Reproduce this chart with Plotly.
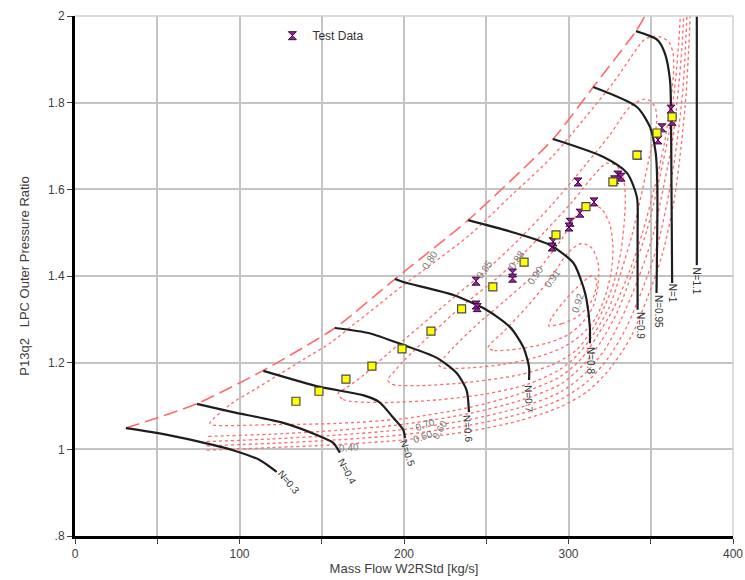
import plotly.graph_objects as go

# ---- speed lines (corrected speed N) ----
speed_names = ["N=0.3", "N=0.4", "N=0.5", "N=0.6", "N=0.7", "N=0.8", "N=0.9", "N=0.95", "N=1", "N=1.1"]
speed_x = [
    [30.9, 49.8, 74, 96, 112.5, 122.6],
    [74, 96, 126.6, 147, 157, 161],
    [114.5, 149, 175, 185, 193, 199.5, 200.6],
    [158, 179, 199.5, 220, 232, 238, 239.5],
    [194.5, 199.5, 230, 250.5, 264.5, 272.5, 276, 276],
    [239, 266, 289, 303, 309, 311, 313, 313],
    [290.6, 321, 335.5, 341.6, 342, 342],
    [315, 341.6, 349.5, 353, 354, 353.5],
    [341, 354, 358.6, 361.7, 362.3, 363],
    [378, 378],
]
speed_y = [
    [1.049, 1.038, 1.019, 0.998, 0.975, 0.948],
    [1.105, 1.086, 1.061, 1.033, 1.015, 0.992],
    [1.181, 1.144, 1.125, 1.109, 1.075, 1.045, 1.026],
    [1.280, 1.268, 1.241, 1.211, 1.176, 1.137, 1.086],
    [1.393, 1.386, 1.356, 1.321, 1.282, 1.236, 1.190, 1.160],
    [1.529, 1.501, 1.471, 1.430, 1.375, 1.345, 1.280, 1.245],
    [1.716, 1.675, 1.638, 1.582, 1.499, 1.322],
    [1.836, 1.790, 1.744, 1.684, 1.605, 1.361],
    [1.965, 1.945, 1.914, 1.852, 1.790, 1.384],
    [2.0, 1.425],
]
# label centre and rotation for each speed line
speed_lab_x = [129.5, 165.3, 202.4, 239.0, 276.0, 313.7, 343.5, 354.4, 363.0, 378.0]
speed_lab_y = [0.925, 0.948, 0.991, 1.049, 1.118, 1.206, 1.287, 1.317, 1.361, 1.388]
speed_lab_ang = [50, 62, 72, 85, 88, 90, 90, 90, 90, 90]

# ---- surge line ----
surge_x = [31, 74, 114, 158, 194.5, 239, 290.6, 315, 341, 346.5]
surge_y = [1.049, 1.105, 1.181, 1.280, 1.393, 1.529, 1.716, 1.836, 1.965, 2.0]

# ---- efficiency contours ----
eff_levels = ["0.40", "0.50", "0.60", "0.70", "0.80", "0.85", "0.88", "0.90", "0.91", "0.92"]
eff_x = [
    [80, 120, 160, 200, 240, 270, 295, 312, 326, 338, 348, 357, 364, 368.5, 371.5, 373, 374],
    [80, 120, 160, 200, 240, 270, 295, 311, 324, 335, 345, 354, 361, 366, 369.5, 371, 372],
    [80, 120, 160, 200, 240, 270, 295, 310, 322, 332, 342, 351, 358, 363.5, 367, 369, 370],
    [81, 120, 160, 200, 240, 270, 295, 309, 320, 330, 339, 348, 355, 361, 365, 367, 368],
    [82, 84, 120, 160, 200, 240, 270, 295, 308, 318, 328, 337, 345, 352, 358, 362, 364, 363.5,
     361, 357, 352, 346, 338, 328, 310, 290, 265, 240, 216, 200, 185, 170, 155, 140, 125, 110, 95, 82],
    [160, 163, 185, 220, 250, 275, 295, 306, 316, 325, 332, 339, 345, 350, 353.5, 353, 350, 346,
     341, 336, 325, 310, 290, 270, 249, 230, 210, 190, 175, 165, 160],
    [190, 193, 210, 240, 270, 290, 305, 315, 322, 328, 332, 334, 334.5, 333, 329, 323, 316,
     302, 285, 268.7, 255, 235, 215, 200, 193, 190],
    [221, 224, 240, 260, 280, 297, 308, 316, 322, 326, 327, 325, 320, 313, 305, 295, 285,
     279.6, 262, 245, 230, 224, 221],
    [251, 255, 270, 287, 300, 309, 315, 318, 318, 314, 308, 300, 290, 275, 260, 253, 251],
    [288, 296, 305, 312, 316, 317, 314, 307, 298, 290, 288],
]
eff_y = [
    [0.998, 1.004, 1.011, 1.022, 1.042, 1.066, 1.098, 1.135, 1.19, 1.26, 1.35, 1.45, 1.57, 1.70, 1.82, 1.92, 2.0],
    [1.008, 1.014, 1.022, 1.034, 1.056, 1.081, 1.115, 1.155, 1.21, 1.28, 1.37, 1.47, 1.59, 1.71, 1.83, 1.92, 2.0],
    [1.018, 1.024, 1.033, 1.046, 1.069, 1.096, 1.132, 1.175, 1.23, 1.30, 1.39, 1.49, 1.61, 1.72, 1.84, 1.93, 2.0],
    [1.030, 1.035, 1.044, 1.058, 1.083, 1.112, 1.150, 1.195, 1.25, 1.32, 1.41, 1.51, 1.62, 1.73, 1.85, 1.94, 2.0],
    [1.06, 1.056, 1.057, 1.060, 1.071, 1.097, 1.128, 1.168, 1.21, 1.265, 1.33, 1.41, 1.50, 1.60, 1.70, 1.80, 1.88,
     1.915, 1.94, 1.95, 1.953, 1.945, 1.905, 1.85, 1.765, 1.675, 1.585, 1.495, 1.425, 1.38, 1.335, 1.29, 1.245,
     1.21, 1.175, 1.14, 1.105, 1.06],
    [1.13, 1.115, 1.108, 1.114, 1.128, 1.150, 1.185, 1.22, 1.27, 1.33, 1.41, 1.50, 1.60, 1.69, 1.75, 1.785, 1.803,
     1.808, 1.800, 1.785, 1.725, 1.655, 1.565, 1.485, 1.41, 1.35, 1.285, 1.22, 1.17, 1.142, 1.13],
    [1.16, 1.150, 1.147, 1.155, 1.172, 1.195, 1.23, 1.28, 1.33, 1.39, 1.46, 1.53, 1.59, 1.63, 1.655, 1.66, 1.635,
     1.57, 1.50, 1.437, 1.39, 1.33, 1.26, 1.205, 1.175, 1.16],
    [1.195, 1.188, 1.188, 1.196, 1.212, 1.236, 1.265, 1.30, 1.35, 1.41, 1.47, 1.52, 1.555, 1.565, 1.54, 1.48,
     1.43, 1.405, 1.345, 1.29, 1.235, 1.21, 1.195],
    [1.234, 1.228, 1.232, 1.245, 1.265, 1.295, 1.33, 1.38, 1.43, 1.465, 1.475, 1.455, 1.40, 1.33, 1.27, 1.245, 1.234],
    [1.285, 1.29, 1.305, 1.33, 1.36, 1.39, 1.40, 1.38, 1.345, 1.305, 1.285],
]
eff_lab_x = [166.6, 211.5, 221.9, 212.8, 216.0, 249.0, 268.7, 279.6, 290.0, 305.8]
eff_lab_y = [1.005, 1.029, 1.045, 1.058, 1.437, 1.414, 1.437, 1.402, 1.395, 1.338]
eff_lab_ang = [-5, -20, -60, -20, -55, -55, -55, -55, -55, -72]

# ---- measured and model points ----
test_x = [362.3, 363.0, 356.8, 354.4, 342.2, 305.8, 330.0, 332.0, 328.0, 315.5, 307.0, 301.0,
          300.3, 290.6, 290.0, 266.0, 266.0, 243.8, 243.8, 244.5]
test_y = [1.785, 1.757, 1.742, 1.714, 1.679, 1.617, 1.633, 1.628, 1.622, 1.571, 1.545, 1.524,
          1.513, 1.479, 1.467, 1.407, 1.395, 1.388, 1.333, 1.327]
model_x = [134.3, 148.3, 164.7, 180.5, 198.8, 216.4, 235.0, 254.0, 273.0, 292.4, 310.6, 327.0,
           341.6, 353.8, 363.0]
model_y = [1.111, 1.134, 1.162, 1.192, 1.232, 1.273, 1.324, 1.375, 1.432, 1.495, 1.560, 1.617,
           1.679, 1.730, 1.767]

x_ticks = [0, 50, 100, 150, 200, 250, 300, 350, 400]
x_tick_text = ["0", "", "100", "", "200", "", "300", "", "400"]
y_ticks = [0.8, 1.0, 1.2, 1.4, 1.6, 1.8, 2.0]
y_tick_text = [".8", "1", "1.2", "1.4", "1.6", "1.8", "2"]

FONT = "Arial, Liberation Sans, sans-serif"
RED = "#ff6a6a"

fig = go.Figure()

for lvl, xs, ys in zip(eff_levels, eff_x, eff_y):
    fig.add_trace(go.Scatter(
        x=xs, y=ys, mode="lines", name=lvl, showlegend=False, hoverinfo="skip",
        line=dict(color=RED, width=1.3, dash="3px,3px", shape="spline", smoothing=0.8),
    ))

fig.add_trace(go.Scatter(
    x=surge_x, y=surge_y, mode="lines", showlegend=False, hoverinfo="skip",
    line=dict(color=RED, width=1.6, dash="14px,6px", shape="spline", smoothing=0.6),
))

for name, xs, ys in zip(speed_names, speed_x, speed_y):
    fig.add_trace(go.Scatter(
        x=xs, y=ys, mode="lines", name=name, showlegend=False, hoverinfo="skip",
        line=dict(color="#1e1e1e", width=2.2, shape="spline", smoothing=0.7),
    ))

fig.add_trace(go.Scatter(
    x=test_x, y=test_y, mode="markers", name="Test Data",
    marker=dict(symbol="hourglass", size=8, color="#a01fa8", line=dict(color="#3a0a3a", width=1)),
))
fig.add_trace(go.Scatter(
    x=model_x, y=model_y, mode="markers", showlegend=False,
    marker=dict(symbol="square", size=8, color="#ffff00", line=dict(color="#4a4a4a", width=1.2)),
))

for txt, lx, ly, ang in zip(speed_names, speed_lab_x, speed_lab_y, speed_lab_ang):
    fig.add_annotation(x=lx, y=ly, text=txt, textangle=ang, showarrow=False,
                       font=dict(family=FONT, size=10, color="#333333"))

for txt, lx, ly, ang in zip(eff_levels, eff_lab_x, eff_lab_y, eff_lab_ang):
    fig.add_annotation(x=lx, y=ly, text=txt, textangle=ang, showarrow=False,
                       font=dict(family=FONT, size=10, color="#777777"))

# light frame on the top and right edges
fig.add_shape(type="line", xref="paper", yref="paper", x0=0, x1=1, y0=1, y1=1,
              line=dict(color="#d0d0d0", width=1.5))
fig.add_shape(type="line", xref="paper", yref="paper", x0=1, x1=1, y0=0, y1=1,
              line=dict(color="#d0d0d0", width=1.5))

fig.update_layout(
    width=745, height=580,
    margin=dict(l=75, r=12, t=16, b=44),
    paper_bgcolor="white", plot_bgcolor="white",
    font=dict(family=FONT, size=12, color="#404040"),
    legend=dict(x=0.30, y=0.99, xanchor="left", yanchor="top",
                bgcolor="rgba(0,0,0,0)", font=dict(size=12, color="#333333")),
    xaxis=dict(
        range=[0, 400], tickvals=x_ticks, ticktext=x_tick_text, automargin=False,
        showgrid=True, gridcolor="#c4c4c4", gridwidth=1.5, zeroline=False,
        showline=True, linecolor="black", linewidth=3,
        ticks="outside", ticklen=5, tickcolor="#404040",
        title=dict(text="Mass Flow W2RStd [kg/s]", font=dict(size=13, color="#404040"), standoff=4),
    ),
    yaxis=dict(
        range=[0.8, 2.0], tickvals=y_ticks, ticktext=y_tick_text, automargin=False,
        showgrid=True, gridcolor="#c4c4c4", gridwidth=1.5, zeroline=False,
        showline=True, linecolor="black", linewidth=3,
        ticks="outside", ticklen=5, tickcolor="#404040",
        title=dict(text="P13q2\u00a0\u00a0\u00a0LPC Outer Pressure Ratio",
                   font=dict(size=13, color="#404040"), standoff=16),
    ),
)

fig.write_html("out.html")
